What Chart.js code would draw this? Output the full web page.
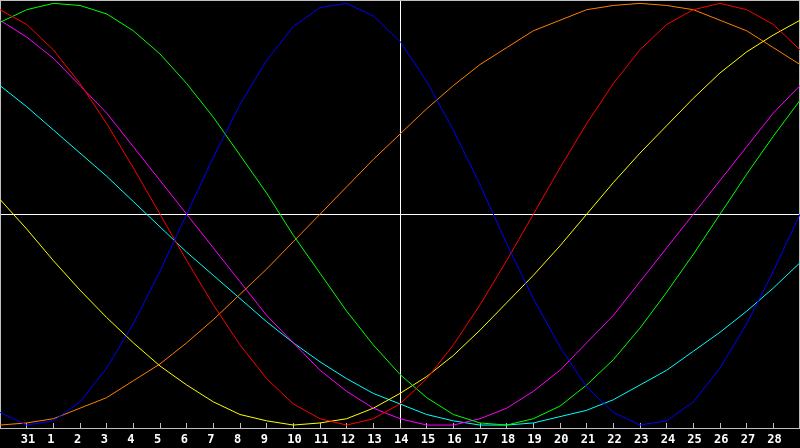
<!DOCTYPE html>
<html>
<head>
<meta charset="utf-8">
<script src="https://cdn.jsdelivr.net/npm/chart.js@4.4.1/dist/chart.umd.min.js"></script>
<style>
  html, body { margin: 0; padding: 0; background: #000; }
  #wrap { width: 800px; height: 448px; }
</style>
</head>
<body>
<div id="wrap"><canvas id="chart" width="800" height="448"></canvas></div>
<script>
// Days shown along the bottom (first and last are only half visible, no label)
const days = ['30', '31', '1', '2', '3', '4', '5', '6', '7', '8', '9', '10', '11', '12', '13',
    '14', '15', '16', '17', '18', '19', '20', '21', '22', '23', '24', '25', '26', '27', '28', '29'];
const todayIndex = 15;

// Cycle values in percent, one per day
const physical = [-94, -100, -98, -89, -73, -52, -27, 0, 27, 52, 73, 89, 98, 100, 94, 82,
    63, 40, 14, -14, -40, -63, -82, -94, -100, -98, -89, -73, -52, -27, 0];
const emotional = [97, 90, 78, 62, 43, 22, 0, -22, -43, -62, -78, -90, -97, -100, -97, -90,
    -78, -62, -43, -22, 0, 22, 43, 62, 78, 90, 97, 100, 97, 90, 78];
const intellectual = [91, 97, 100, 99, 95, 87, 76, 62, 46, 28, 10, -10, -28, -46, -62, -76,
    -87, -95, -99, -100, -97, -91, -81, -69, -54, -37, -19, 0, 19, 37, 54];
const intuitive = [92, 84, 74, 61, 48, 32, 16, 0, -16, -32, -48, -61, -74, -84, -92, -97,
    -100, -100, -97, -92, -84, -74, -61, -48, -32, -16, 0, 16, 32, 48, 61];
const aesthetic = [7, -7, -22, -36, -49, -61, -72, -81, -89, -95, -98, -100, -99, -97, -92, -85,
    -77, -67, -55, -42, -29, -15, 0, 15, 29, 42, 55, 67, 77, 85, 92];
const awareness = [-100, -99, -97, -92, -87, -79, -71, -61, -50, -38, -26, -13, 0, 13, 26, 38,
    50, 61, 71, 79, 87, 92, 97, 99, 100, 99, 97, 92, 87, 79, 71];
const spiritual = [61, 51, 40, 29, 18, 6, -6, -18, -29, -40, -51, -61, -70, -78, -85, -90,
    -95, -98, -100, -100, -99, -96, -93, -88, -81, -74, -65, -56, -46, -35, -23];

const series = [
    { label: 'Physical', data: physical, color: '#0000ff' },
    { label: 'Emotional', data: emotional, color: '#ff0000' },
    { label: 'Intellectual', data: intellectual, color: '#00ff00' },
    { label: 'Intuitive', data: intuitive, color: '#ff00ff' },
    { label: 'Aesthetic', data: aesthetic, color: '#ffff00' },
    { label: 'Awareness', data: awareness, color: '#ff8000' },
    { label: 'Spiritual', data: spiritual, color: '#00ffff' }
];

const frameColor = '#c0c0c0';

// Grey frame round the plot area
const framePlugin = {
    id: 'frame',
    beforeDatasetsDraw(chart) {
        const { ctx, chartArea } = chart;
        ctx.save();
        ctx.strokeStyle = frameColor;
        ctx.lineWidth = 1;
        ctx.strokeRect(chartArea.left + 0.5, chartArea.top + 0.5,
            chartArea.right - chartArea.left - 1, chartArea.bottom - chartArea.top);
        ctx.restore();
    }
};

new Chart(document.getElementById('chart'), {
    type: 'line',
    data: {
        labels: days,
        datasets: series.map(s => ({
            label: s.label,
            data: s.data,
            borderColor: s.color,
            backgroundColor: s.color,
            borderWidth: 1,
            pointRadius: 0,
            tension: 0,
            fill: false
        }))
    },
    options: {
        responsive: false,
        devicePixelRatio: 1,
        animation: false,
        layout: { padding: 0 },
        plugins: {
            legend: { display: false },
            tooltip: { enabled: false }
        },
        scales: {
            x: {
                type: 'category',
                offset: false,
                afterFit: s => {
                    s.height = 20;
                    s.paddingLeft = 0;
                    s.paddingRight = 0;
                },
                border: { display: true, color: frameColor, width: 1 },
                grid: {
                    drawOnChartArea: true,
                    drawTicks: true,
                    tickLength: -5,
                    color: ctx => ctx.index === todayIndex ? '#ffffff' : 'rgba(0,0,0,0)',
                    tickColor: ctx => (ctx.index > 0 && ctx.index < days.length - 1) ? frameColor : 'rgba(0,0,0,0)'
                },
                ticks: {
                    autoSkip: false,
                    maxRotation: 0,
                    minRotation: 0,
                    align: 'start',
                    labelOffset: -6,
                    padding: 10,
                    color: '#ffffff',
                    font: { family: 'DejaVu Sans Mono', size: 12, weight: 'bold' },
                    callback: (value, index) => (index > 0 && index < days.length - 1) ? days[index] : ''
                }
            },
            y: {
                min: -101.4,
                max: 101.6,
                afterFit: s => {
                    s.width = 0;
                    s.paddingTop = 0;
                    s.paddingBottom = 0;
                },
                afterBuildTicks: s => { s.ticks = [{ value: 0 }]; },
                border: { display: false },
                grid: { color: '#ffffff', drawTicks: false },
                ticks: { display: false }
            }
        }
    },
    plugins: [framePlugin]
});
</script>
</body>
</html>
